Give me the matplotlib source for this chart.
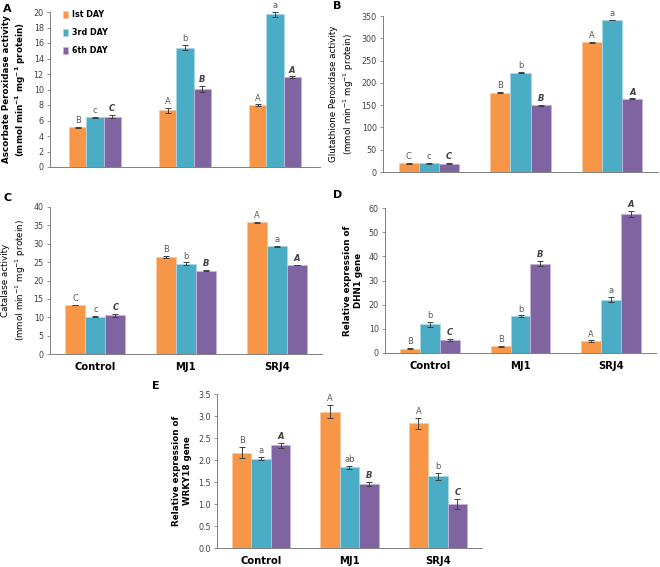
import numpy as np
import matplotlib.pyplot as plt

# Data
groups = ['Control', 'MJ1', 'SRJ4']
days = ['Ist DAY', '3rd DAY', '6th DAY']
colors = ['#F79646', '#4BACC6', '#8064A2']
edges = ['#FBC8A0', '#A8D8E6', '#C4B4DA']

apx_vals = [[5.1, 7.3, 8.0], [6.4, 15.4, 19.7], [6.5, 10.1, 11.6]]
apx_err = [[0.08, 0.3, 0.08], [0.08, 0.3, 0.3], [0.2, 0.4, 0.08]]
apx_let = [['B', 'A', 'A'], ['c', 'b', 'a'], ['C', 'B', 'A']]

gpx_vals = [[20, 178, 291], [20, 223, 341], [19, 150, 164]]
gpx_err = [[1, 1, 1], [1, 1.5, 1], [1, 1, 1]]
gpx_let = [['C', 'B', 'A'], ['c', 'b', 'a'], ['C', 'B', 'A']]

cat_vals = [[13.3, 26.5, 35.8], [10.2, 24.6, 29.3], [10.5, 22.7, 24.2]]
cat_err = [[0.1, 0.3, 0.1], [0.15, 0.3, 0.15], [0.4, 0.2, 0.1]]
cat_let = [['C', 'B', 'A'], ['c', 'b', 'a'], ['C', 'B', 'A']]

dhn_vals = [[1.8, 2.7, 4.9], [11.9, 15.2, 22.0], [5.5, 37.0, 57.6]]
dhn_err = [[0.3, 0.2, 0.3], [1.0, 0.4, 1.1], [0.4, 1.1, 1.3]]
dhn_let = [['B', 'B', 'A'], ['b', 'b', 'a'], ['C', 'B', 'A']]

wrky_vals = [[2.17, 3.10, 2.83], [2.03, 1.83, 1.63], [2.33, 1.46, 1.00]]
wrky_err = [[0.12, 0.15, 0.12], [0.04, 0.03, 0.08], [0.06, 0.04, 0.11]]
wrky_let = [['B', 'A', 'A'], ['a', 'ab', 'b'], ['A', 'B', 'C']]

W, H = 660, 567
fig = plt.figure(figsize=(W / 100, H / 100), dpi=100)
plt.rcParams['font.family'] = ['DejaVu Sans']


def px_axes(left, right, top, bottom):
    return fig.add_axes([left / W, 1 - bottom / H, (right - left) / W, (bottom - top) / H])


def bar_panel(ax, vals, errs, lets, ymax, step, ylabel, bold_label, width, show_x, fmt=None, xlim=(-0.5, 2.5)):
    x = np.arange(len(groups))
    off = 0.012 * ymax
    for i in range(3):
        xs = x + (i - 1) * width
        ax.bar(xs, vals[i], width=width, color=colors[i], edgecolor=edges[i], linewidth=0.6,
               label=days[i], zorder=2)
        ax.errorbar(xs, vals[i], yerr=errs[i], fmt='none', ecolor='#404040', elinewidth=0.7,
                    capsize=2, capthick=0.7, zorder=3)
        for xv, v, e, t in zip(xs, vals[i], errs[i], lets[i]):
            if i == 2:
                ax.text(xv, v + e + off, t, ha='center', va='bottom', fontsize=6,
                        fontweight='bold', style='italic', color='#404040')
            else:
                ax.text(xv, v + e + off, t, ha='center', va='bottom', fontsize=6,
                        color='#595959')
    ax.set_xlim(*xlim)
    ax.set_ylim(0, ymax)
    ax.set_yticks(np.arange(0, ymax + step / 2, step))
    if fmt:
        ax.set_yticklabels([fmt % t for t in np.arange(0, ymax + step / 2, step)])
    ax.tick_params(axis='y', labelsize=5.8, length=2.5, width=0.6, colors='#808080',
                   labelcolor='#404040', pad=2)
    ax.set_xticks(x)
    if show_x:
        ax.set_xticklabels(groups, fontsize=7.2, fontweight='bold')
    else:
        ax.set_xticklabels([])
    ax.tick_params(axis='x', length=0, pad=6)
    for s in ['top', 'right']:
        ax.spines[s].set_visible(False)
    for s in ['left', 'bottom']:
        ax.spines[s].set_color('#808080')
        ax.spines[s].set_linewidth(0.7)
    ax.set_ylabel(ylabel, fontsize=6.3, fontweight='bold' if bold_label else 'normal',
                  linespacing=1.3, labelpad=4)


unit = '(mmol min$^{-1}$ mg$^{-1}$ protein)'

axA = px_axes(50, 320, 12, 167)
bar_panel(axA, apx_vals, apx_err, apx_let, 20, 2,
          'Ascorbate Peroxidase activity\n' + '(mmol min$^{\\mathbf{-1}}$ mg$^{\\mathbf{-1}}$ protein)',
          True, 0.19, False)
axA.legend(loc='upper left', bbox_to_anchor=(0.02, 1.06), frameon=False,
           prop={'weight': 'bold', 'size': 5.8}, handlelength=0.7, handleheight=0.9,
           labelspacing=1.15, handletextpad=0.5)

axB = px_axes(383, 658, 16, 172)
bar_panel(axB, gpx_vals, gpx_err, gpx_let, 350, 50,
          'Glutathione Peroxidase activity\n' + unit, False, 0.22, False)

axC = px_axes(50, 322, 207, 354)
bar_panel(axC, cat_vals, cat_err, cat_let, 40, 5,
          'Catalase activity\n' + unit, False, 0.22, True)

axD = px_axes(385, 656, 208, 353)
bar_panel(axD, dhn_vals, dhn_err, dhn_let, 60, 10,
          'Relative expression of\nDHN1 gene', True, 0.22, True)

axE = px_axes(217, 482, 394, 548)
bar_panel(axE, wrky_vals, wrky_err, wrky_let, 3.5, 0.5,
          'Relative expression of\nWRKY18 gene', True, 0.22, True, fmt='%.1f')

for lab, (px, py) in zip('ABCDE', [(3, 9), (333, 6), (3, 198), (333, 195), (152, 386)]):
    fig.text(px / W, 1 - py / H, lab, fontsize=8, fontweight='bold', ha='left', va='center')

fig.savefig('out.png', dpi=100)
